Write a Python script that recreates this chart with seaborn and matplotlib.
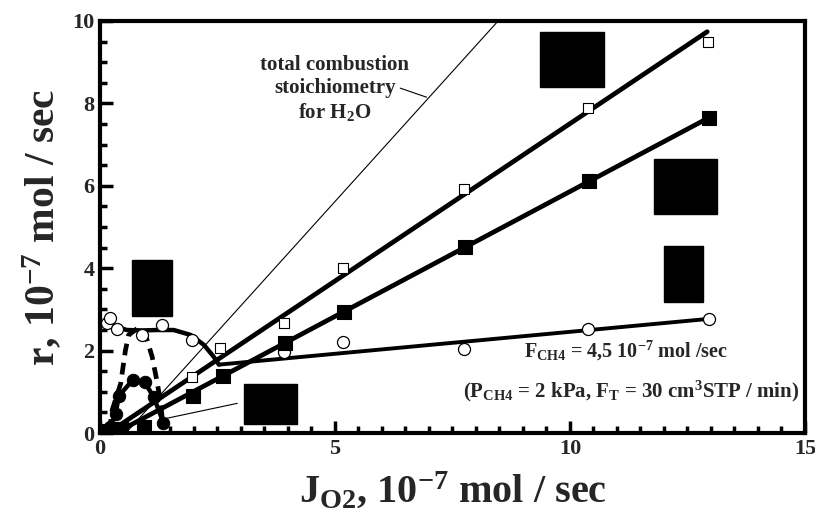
import numpy as np
import pandas as pd
import seaborn as sns
import matplotlib
matplotlib.use("Agg")
import matplotlib.pyplot as plt
from matplotlib.patches import Rectangle

# ---------------- data ----------------
open_sq_x = [1.96, 2.56, 3.91, 5.17, 7.74, 10.39, 12.94]
open_sq_y = [1.37, 2.06, 2.68, 4.01, 5.92, 7.90, 9.50]
open_sq_fit_x = [0.17, 12.92]
open_sq_fit_y = [0.0, 9.74]

fill_sq_x = [0.20, 0.45, 0.93, 1.97, 2.62, 3.93, 5.19, 7.76, 10.40, 12.95]
fill_sq_y = [0.05, 0.10, 0.15, 0.91, 1.38, 2.18, 2.94, 4.52, 6.12, 7.65]
fill_sq_fit_x = [0.33, 12.95]
fill_sq_fit_y = [0.0, 7.65]

open_c_x = [0.15, 0.22, 0.37, 0.90, 1.32, 1.96, 3.91, 5.17, 7.74, 10.38, 12.95]
open_c_y = [2.66, 2.78, 2.52, 2.38, 2.63, 2.26, 1.96, 2.22, 2.04, 2.52, 2.77]
open_c_curve_x = [0.15, 0.35, 0.57, 0.9, 1.22, 1.57, 1.93, 2.21, 2.42, 2.53]
open_c_curve_y = [2.70, 2.58, 2.50, 2.49, 2.50, 2.50, 2.38, 2.14, 1.85, 1.66]
open_c_fit_x = [2.53, 12.95]
open_c_fit_y = [1.66, 2.77]

fill_c_x = [0.10, 0.22, 0.33, 0.40, 0.70, 0.95, 1.14, 1.35]
fill_c_y = [0.05, 0.15, 0.45, 0.90, 1.29, 1.23, 0.88, 0.25]

dash_x = [0.20, 0.26, 0.44, 0.54, 0.61, 0.83, 0.97, 1.11, 1.22, 1.29, 1.33]
dash_y = [0.05, 0.56, 1.20, 2.00, 2.38, 2.57, 2.38, 1.85, 1.21, 0.73, 0.30]

stoich_x = [0.55, 8.47]
stoich_y = [0.0, 10.0]

x_ticks = [0, 5, 10, 15]
y_ticks = [0, 2, 4, 6, 8, 10]

# redaction boxes (x0, x1, y0, y1) in data units
boxes = [(9.37, 10.73, 8.40, 9.73), (11.78, 13.12, 5.31, 6.65),
         (11.99, 12.83, 3.19, 4.54), (0.68, 1.54, 2.85, 4.20),
         (3.07, 4.20, 0.23, 1.18)]

# ---------------- style ----------------
sns.set_theme(style="white")
plt.rcParams['font.family'] = ['Liberation Serif', 'DejaVu Serif']
plt.rcParams['font.weight'] = 'bold'
plt.rcParams['mathtext.fontset'] = 'custom'
plt.rcParams['mathtext.rm'] = 'Liberation Serif:bold'
plt.rcParams['mathtext.bf'] = 'Liberation Serif:bold'
plt.rcParams['mathtext.it'] = 'Liberation Serif:bold'
plt.rcParams['mathtext.default'] = 'rm'

fig = plt.figure(figsize=(8.15, 5.25), dpi=100)
ax = fig.add_axes([0.1227, 0.1752, 0.8650, 0.7848])

# thin stoichiometry line
sns.lineplot(x=stoich_x, y=stoich_y, ax=ax, color='black', lw=0.8)

# fit lines
sns.lineplot(x=open_sq_fit_x, y=open_sq_fit_y, ax=ax, color='black', lw=3.4)
sns.lineplot(x=fill_sq_fit_x, y=fill_sq_fit_y, ax=ax, color='black', lw=3.4)
sns.lineplot(x=open_c_fit_x, y=open_c_fit_y, ax=ax, color='black', lw=2.8)
ax.plot(open_c_curve_x, open_c_curve_y, color='black', lw=3.2, solid_capstyle='round')
ax.plot(fill_c_x, fill_c_y, color='black', lw=3.2)
ax.plot(dash_x, dash_y, color='black', lw=3.4, ls=(0, (2.5, 1.6)))

# markers
sns.scatterplot(x=open_sq_x, y=open_sq_y, ax=ax, marker='s', s=55,
                facecolor='white', edgecolor='black', linewidth=0.8, zorder=5)
sns.scatterplot(x=fill_sq_x, y=fill_sq_y, ax=ax, marker='s', s=95,
                color='black', edgecolor='black', zorder=5)
sns.scatterplot(x=open_c_x, y=open_c_y, ax=ax, marker='o', s=75,
                facecolor='white', edgecolor='black', linewidth=0.9, zorder=4)
sns.scatterplot(x=fill_c_x, y=fill_c_y, ax=ax, marker='o', s=80,
                color='black', edgecolor='black', zorder=5)

for (x0, x1, y0, y1) in boxes:
    ax.add_patch(Rectangle((x0, y0), x1 - x0, y1 - y0, color='black', zorder=6))

# leader lines
ax.plot([6.39, 6.95], [8.37, 8.15], color='black', lw=0.8)
ax.plot([1.43, 2.92], [0.36, 0.72], color='black', lw=0.8)

# texts
ax.text(5.0, 8.35, 'total combustion\nstoichiometry\nfor H$_2$O', ha='center', va='center',
        fontsize=15, fontweight='bold', linespacing=1.2)
ax.text(11.2, 2.0, 'F$_{CH4}$ = 4,5 10$^{-7}$ mol /sec', ha='center', va='center',
        fontsize=14.5, fontweight='bold')
ax.text(11.3, 1.00, '(P$_{CH4}$ = 2 kPa, F$_T$ = 30 cm$^3$STP / min)', ha='center', va='center',
        fontsize=15, fontweight='bold')

ax.set_xlim(0, 15)
ax.set_ylim(0, 10)
ax.set_xticks(x_ticks)
ax.set_yticks(y_ticks)
ax.set_xticklabels([str(t) for t in x_ticks], fontsize=16, fontweight='bold')
ax.set_yticklabels([str(t) for t in y_ticks], fontsize=16, fontweight='bold')
ax.set_xticks(np.arange(0, 15.01, 0.5), minor=True)
ax.set_yticks(np.arange(0, 10.01, 0.5), minor=True)
ax.tick_params(axis='x', which='major', pad=4)
ax.tick_params(axis='y', which='major', pad=4)
ax.tick_params(axis='both', which='major', direction='in', length=9, width=2.5,
               color='black', bottom=True, left=True, top=False, right=False)
ax.tick_params(axis='both', which='minor', direction='in', length=5, width=2.5,
               color='black', bottom=True, left=True, top=False, right=False)
for sp in ax.spines.values():
    sp.set_visible(True)
    sp.set_color('black')
    sp.set_linewidth(3)

ax.set_xlabel('J$_{O2}$, 10$^{-7}$ mol / sec', fontsize=29, fontweight='bold', labelpad=8)
ax.set_ylabel('r, 10$^{-7}$ mol / sec', fontsize=30, fontweight='bold', labelpad=6)

fig.savefig('out.png', dpi=100, facecolor='white')
